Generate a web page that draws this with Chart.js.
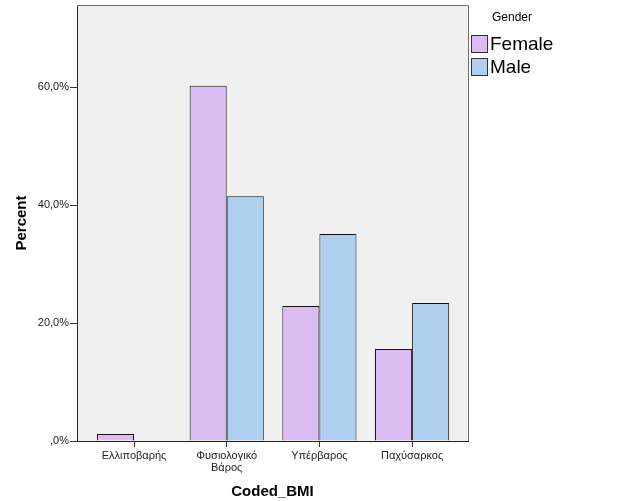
<!DOCTYPE html>
<html>
<head>
<meta charset="utf-8">
<script src="https://cdn.jsdelivr.net/npm/chart.js@4.4.0/dist/chart.umd.min.js"></script>
<style>
html,body{margin:0;padding:0;background:#fff;}
#wrap{width:626px;height:501px;position:relative;}
</style>
</head>
<body>
<div id="wrap"><canvas id="c" width="626" height="501"></canvas></div>
<script>
const categories = [["Ελλιποβαρής"], ["Φυσιολογικό", "Βάρος"], ["Υπέρβαρος"], ["Παχύσαρκος"]];
const seriesNames = ["Female", "Male"];
const femaleValues = [1.2, 60.2, 22.9, 15.6];
const maleValues = [0, 41.5, 35.1, 23.4];
const yTicks = [0, 20, 40, 60];
const legendTitle = "Gender";
const xTitle = "Coded_BMI";
const yTitle = "Percent";

const FONT = "'Liberation Sans', Arial, sans-serif";
const colors = ["#dcbcf0", "#aecfee"];

const positions = categories.map((_, i) => i + 1);

const framePlugin = {
  id: 'frame',
  beforeDraw(chart) {
    const a = chart.chartArea, ctx = chart.ctx;
    ctx.save();
    ctx.fillStyle = '#f0f0f0';
    ctx.fillRect(a.left, a.top, a.right - a.left, a.bottom - a.top);
    ctx.restore();
  },
  afterDraw(chart) {
    const a = chart.chartArea, ctx = chart.ctx;
    ctx.save();
    ctx.strokeStyle = '#6e6e6e';
    ctx.lineWidth = 1;
    ctx.beginPath();
    ctx.moveTo(a.left, a.top + 0.5);
    ctx.lineTo(a.right + 0.5, a.top + 0.5);
    ctx.lineTo(a.right + 0.5, a.bottom);
    ctx.stroke();
    // legend
    ctx.fillStyle = '#000';
    ctx.textBaseline = 'middle';
    ctx.textAlign = 'left';
    ctx.font = '12px ' + FONT;
    ctx.fillText(legendTitle, 492, 18);
    chart.data.datasets.forEach((ds, i) => {
      const y = 35 + i * 23;
      ctx.fillStyle = ds.backgroundColor;
      ctx.fillRect(471, y, 16, 17);
      ctx.strokeStyle = '#333';
      ctx.strokeRect(471.5, y + 0.5, 16, 17);
      ctx.fillStyle = '#000';
      ctx.font = '19px ' + FONT;
      ctx.fillText(ds.label, 490, y + 10);
    });
    ctx.restore();
  }
};

new Chart(document.getElementById('c'), {
  type: 'bar',
  data: {
    datasets: [
      { label: seriesNames[0], data: positions.map((x, i) => ({x, y: femaleValues[i]})), backgroundColor: colors[0], borderColor: '#111', borderWidth: 1, borderSkipped: 'start' },
      { label: seriesNames[1], data: positions.map((x, i) => ({x, y: maleValues[i]})), backgroundColor: colors[1], borderColor: '#111', borderWidth: 1, borderSkipped: 'start' }
    ]
  },
  plugins: [framePlugin],
  options: {
    responsive: false,
    animation: false,
    devicePixelRatio: 1,
    layout: { padding: { top: 5, right: 158, left: 0, bottom: 0 } },
    datasets: { bar: { categoryPercentage: 0.8, barPercentage: 1.0 } },
    plugins: { legend: { display: false }, tooltip: { enabled: false } },
    scales: {
      x: {
        type: 'linear',
        offset: false,
        min: 0.385,
        max: 4.603,
        afterFit(s) { s.height = 60; s.paddingLeft = 0; s.paddingRight = 0; },
        afterBuildTicks(s) { s.ticks = positions.map(v => ({ value: v })); },
        ticks: {
          autoSkip: false,
          maxRotation: 0,
          color: '#222',
          padding: 3,
          font: { family: FONT, size: 11, lineHeight: 1.1 },
          callback: (v) => categories[Math.round(v) - 1]
        },
        grid: { display: true, offset: false, drawOnChartArea: false, drawTicks: true, tickLength: 6, color: '#333' },
        border: { display: true, color: '#222', width: 1 },
        title: { display: true, text: xTitle, color: '#000', padding: { top: 2, bottom: 0 }, font: { family: FONT, size: 15, weight: 'bold' } }
      },
      y: {
        min: 0,
        max: 73.9,
        afterFit(s) { s.width = 77; s.paddingTop = 0; s.paddingBottom = 0; },
        afterBuildTicks(s) { s.ticks = yTicks.map(v => ({ value: v })); },
        ticks: {
          color: '#222',
          padding: 1,
          font: { family: FONT, size: 11, lineHeight: 0.8 },
          callback: (v) => (v === 0 ? ',0%' : v.toFixed(1).replace('.', ',') + '%')
        },
        grid: { display: true, drawOnChartArea: false, drawTicks: true, tickLength: 7, color: '#333' },
        border: { display: true, color: '#222', width: 1 },
        title: { display: true, text: yTitle, color: '#000', padding: { top: 13, bottom: 0 }, font: { family: FONT, size: 15, weight: 'bold' } }
      }
    }
  }
});
</script>
</body>
</html>
